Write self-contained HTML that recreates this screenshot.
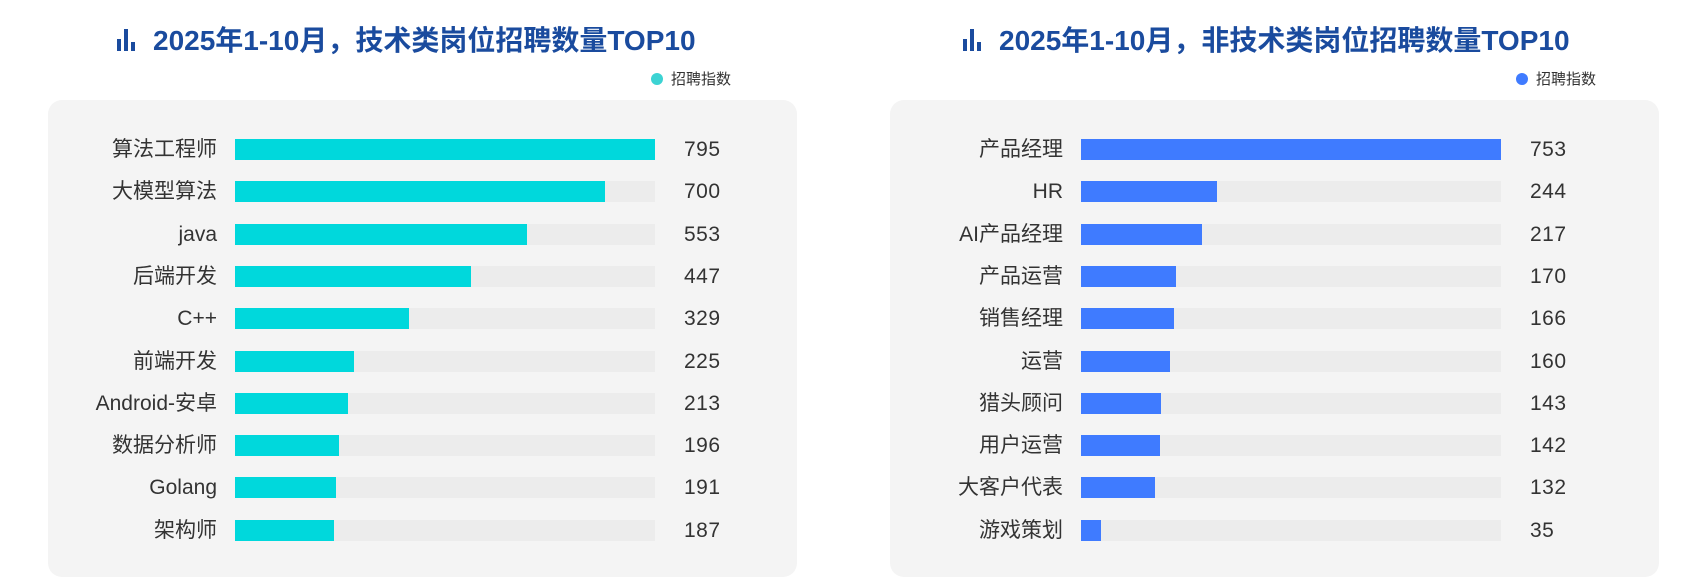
<!DOCTYPE html>
<html><head><meta charset="utf-8"><style>
body{margin:0;width:1692px;height:587px;background:#fff;position:relative;overflow:hidden;font-family:"Liberation Sans","Noto Sans CJK SC",sans-serif}
.t{position:absolute;top:19px;font-size:28px;font-weight:bold;color:#1a4b9e;white-space:nowrap}
.ic{display:inline-block;position:relative;width:20px;height:22px;margin-right:16px;vertical-align:-1px}
.ic i{position:absolute;bottom:0;width:4px;background:#1a4b9e}
.lg{position:absolute;top:68px;font-size:15px;color:#333}
.lg b{display:inline-block;width:12px;height:12px;border-radius:50%;vertical-align:-1px;margin-right:8px}
.p{position:absolute;top:100px;height:477px;background:#f4f4f4;border-radius:14px}
.l{position:absolute;right:0;font-size:21px;color:#333;white-space:nowrap;line-height:21px}
.tr{position:absolute;height:21px;background:#ececec}
.br{position:absolute;left:0;top:0;height:21px}
.v{position:absolute;font-size:21px;color:#333;line-height:21px;letter-spacing:0.5px}
</style></head><body>
<div class="t" style="left:117px"><span class="ic"><i style="left:0;height:12px"></i><i style="left:7px;height:22px"></i><i style="left:14px;height:9px"></i></span>2025年1-10月，技术类岗位招聘数量TOP10</div>
<div class="t" style="left:963px"><span class="ic"><i style="left:0;height:12px"></i><i style="left:7px;height:22px"></i><i style="left:14px;height:9px"></i></span>2025年1-10月，非技术类岗位招聘数量TOP10</div>
<div class="lg" style="left:651px"><b style="background:#3cd3d3"></b>招聘指数</div>
<div class="lg" style="left:1516px"><b style="background:#3f7bff"></b>招聘指数</div>
<div class="p" style="left:48px;width:749px"></div>
<div class="p" style="left:890px;width:769px"></div>
<div id="c"></div>
<script>
function draw(labelEnd,barL,valX,max,color,data){
 let h='';
 data.forEach((d,i)=>{
  const y=139+i*42.3;
  h+=`<div class="l" style="top:${y}px;right:${1692-labelEnd}px">${d[0]}</div>`;
  h+=`<div class="tr" style="top:${y}px;left:${barL}px;width:420px"><div class="br" style="width:${420*d[1]/max}px;background:${color}"></div></div>`;
  h+=`<div class="v" style="top:${y}px;left:${valX}px">${d[1]}</div>`;
 });
 return h;
}
document.getElementById('c').innerHTML=
 draw(217,235,684,795,'#00d8dc',[['算法工程师',795],['大模型算法',700],['java',553],['后端开发',447],['C++',329],['前端开发',225],['Android-安卓',213],['数据分析师',196],['Golang',191],['架构师',187]])+
 draw(1063,1081,1530,753,'#3f7bff',[['产品经理',753],['HR',244],['AI产品经理',217],['产品运营',170],['销售经理',166],['运营',160],['猎头顾问',143],['用户运营',142],['大客户代表',132],['游戏策划',35]]);
</script>
</body></html>
